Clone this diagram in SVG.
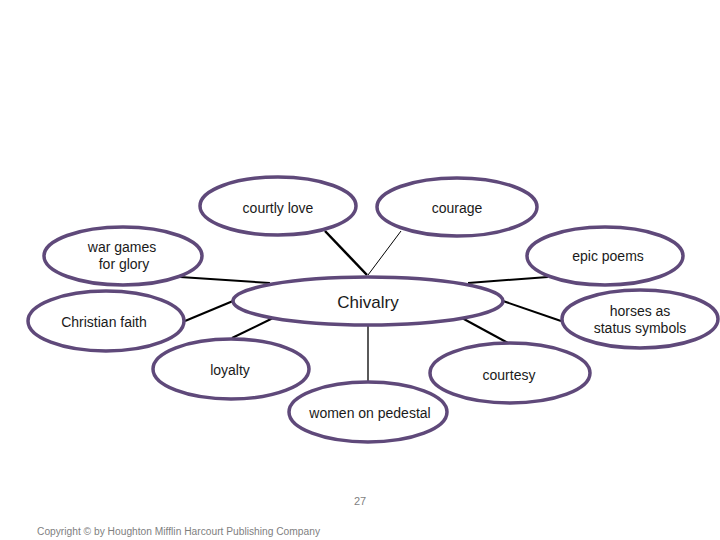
<svg xmlns="http://www.w3.org/2000/svg" width="720" height="540" viewBox="0 0 720 540">
<style>
.n{fill:#fff;stroke:#5f497a;stroke-width:3.5}
.t{font-family:"Liberation Sans",Arial,sans-serif;font-size:14px;fill:#1a1a1a;text-anchor:middle}
.c{stroke:#000;fill:none}
</style>
<rect width="720" height="540" fill="#fff"/>
<g id="connectors">
<line class="c" x1="325" y1="231" x2="367" y2="275" stroke-width="2.5"/>
<line class="c" x1="401" y1="231" x2="368" y2="275" stroke-width="1"/>
<line class="c" x1="180" y1="277" x2="270" y2="283" stroke-width="2"/>
<line class="c" x1="185" y1="321" x2="233" y2="301" stroke-width="2"/>
<line class="c" x1="273" y1="318" x2="232" y2="338" stroke-width="2"/>
<line class="c" x1="468" y1="283" x2="548" y2="277" stroke-width="2"/>
<line class="c" x1="503" y1="301" x2="561" y2="321" stroke-width="2"/>
<line class="c" x1="462" y1="318" x2="508" y2="343" stroke-width="2"/>
<line class="c" x1="368" y1="326" x2="368" y2="382" stroke-width="1.3"/>
</g>
<g id="chivalry"><ellipse class="n" cx="368" cy="301" rx="135" ry="24"/><text class="t" x="368" y="308" style="font-size:17px">Chivalry</text></g>
<g id="courtly-love"><ellipse class="n" cx="278" cy="206" rx="78" ry="29"/><text class="t" x="278" y="213">courtly love</text></g>
<g id="courage"><ellipse class="n" cx="457" cy="207" rx="80" ry="29"/><text class="t" x="457" y="213">courage</text></g>
<g id="war-games"><ellipse class="n" cx="123" cy="256" rx="79" ry="29"/><text class="t" x="122" y="252">war games</text><text class="t" x="124" y="269">for glory</text></g>
<g id="epic-poems"><ellipse class="n" cx="605" cy="256" rx="78" ry="29"/><text class="t" x="608" y="261">epic poems</text></g>
<g id="christian-faith"><ellipse class="n" cx="106" cy="321" rx="78" ry="30"/><text class="t" x="104" y="327">Christian faith</text></g>
<g id="horses"><ellipse class="n" cx="640" cy="319" rx="78" ry="29"/><text class="t" x="640" y="316">horses as</text><text class="t" x="640" y="333">status symbols</text></g>
<g id="loyalty"><ellipse class="n" cx="231" cy="369" rx="78" ry="30"/><text class="t" x="230" y="375">loyalty</text></g>
<g id="courtesy"><ellipse class="n" cx="510" cy="373" rx="80" ry="30"/><text class="t" x="509" y="380">courtesy</text></g>
<g id="women"><ellipse class="n" cx="368" cy="412" rx="79" ry="30"/><text class="t" x="370" y="418">women on pedestal</text></g>
<text x="360" y="505" style="font-family:'Liberation Sans',Arial,sans-serif;font-size:11px;fill:#7f7f7f;text-anchor:middle">27</text>
<text x="37" y="535" textLength="283" lengthAdjust="spacingAndGlyphs" style="font-family:'Liberation Sans',Arial,sans-serif;font-size:10px;fill:#7f7f7f">Copyright © by Houghton Mifflin Harcourt Publishing Company</text>
</svg>
